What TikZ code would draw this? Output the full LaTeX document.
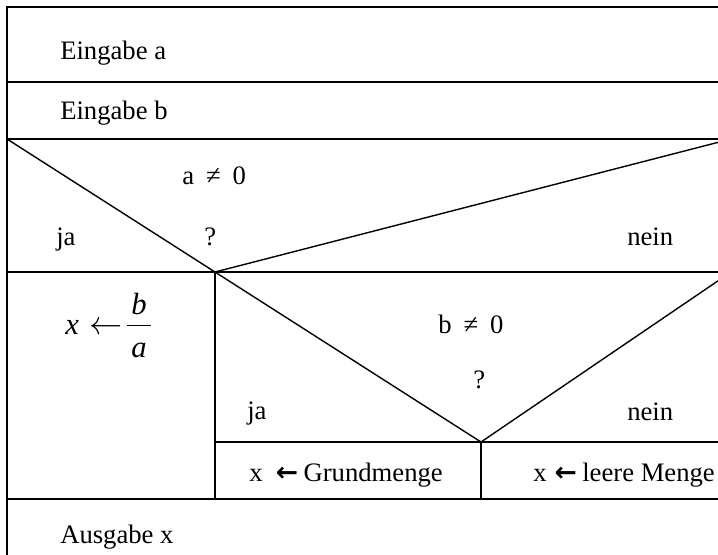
\documentclass[tikz,border=0pt]{standalone}
\usepackage{fontspec}
\setmainfont{Liberation Serif}
\newfontfamily\arrowfont{DejaVu Sans}
\tikzset{
  nsline/.style={draw,black,line width=1.05pt},
  nstext/.style={anchor=base west,inner sep=0pt,font=\fontsize{20}{24}\selectfont},
  nsmath/.style={anchor=base west,inner sep=0pt,font=\fontsize{23}{27}\selectfont},
}
\newcommand{\nsarrow}{{\arrowfont\bfseries ←}}

\begin{document}
\begin{tikzpicture}[x=0.75pt,y=-0.75pt]

  \useasboundingbox (0,0) rectangle (718,554);
  \clip (0,0) rectangle (718,554);

  % corners of the blocks
  \coordinate (tl)  at (7,7);
  \coordinate (tr)  at (731,7);
  \coordinate (ea)  at (7,82);
  \coordinate (ear) at (731,82);
  \coordinate (eb)  at (7,139);
  \coordinate (ebr) at (731,139);
  \coordinate (qa)  at (215,272);
  \coordinate (ql)  at (7,272);
  \coordinate (qr)  at (731,272);
  \coordinate (qb)  at (481,442);
  \coordinate (sl)  at (215,442);
  \coordinate (sr)  at (731,442);
  \coordinate (ol)  at (7,499);
  \coordinate (om)  at (215,499);
  \coordinate (on)  at (481,499);
  \coordinate (or)  at (731,499);
  \coordinate (bl)  at (7,560);

  % frame and rows
  \draw[nsline] (bl) -- (tl) -- (tr);
  \draw[nsline] (ea) -- (ear);
  \draw[nsline] (eb) -- (ebr);
  \draw[nsline] (ql) -- (qr);
  \draw[nsline] (sl) -- (sr);
  \draw[nsline] (ol) -- (or);

  % first decision
  \draw[nsline] (eb) -- (qa) -- (ebr);
  \draw[nsline] (qa) -- (om);

  % second decision
  \draw[nsline] (qa) -- (qb) -- (qr);
  \draw[nsline] (qb) -- (on);

  % texts
  \node[nstext] (ina)  at (60,59)  {Eingabe a};
  \node[nstext] (inb)  at (60,119) {Eingabe b};
  \node[nstext] (conda) at (182,184) {a\hspace{0.45em}≠\hspace{0.45em}0};
  \node[nstext] (qua)  at (204,245) {?};
  \node[nstext] (jaa)  at (56,245)  {ja};
  \node[nstext] (neina) at (627,245) {nein};
  \node[nsmath] (lhs)  at (65,334) {\textit{x}\hspace{0.35em}$\leftarrow$};
  \node[nsmath] (frac) at (127,357) {\setlength{\arrayrulewidth}{0.8pt}%
    \begin{tabular}[b]{@{\hspace{3pt}}c@{\hspace{3pt}}}\textit{b}\\\hline\rule{0pt}{23pt}\textit{a}\end{tabular}};
  \node[nstext] (condb) at (438,333) {b\hspace{0.45em}≠\hspace{0.45em}0};
  \node[nstext] (qub)  at (473,388) {?};
  \node[nstext] (jab)  at (247,419) {ja};
  \node[nstext] (neinb) at (627,420) {nein};
  \node[nstext] (grund) at (249,481) {x\hspace{0.5em}\nsarrow\hspace{0.2em}Grundmenge};
  \node[nstext] (leer) at (533,481) {x\hspace{0.3em}\nsarrow\hspace{0.2em}leere Menge};
  \node[nstext] (out)  at (60,543) {Ausgabe x};

\end{tikzpicture}
\end{document}
